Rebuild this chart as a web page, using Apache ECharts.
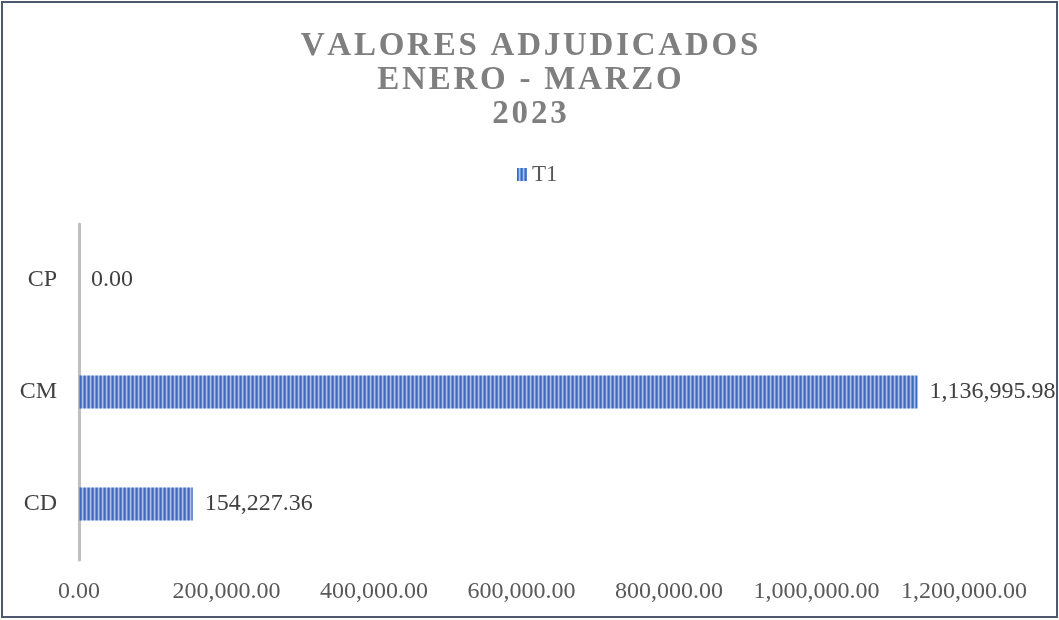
<!DOCTYPE html>
<html lang="es">

<head>
    <meta charset="UTF-8">
    <title>Valores adjudicados</title>
    <script src="https://cdn.jsdelivr.net/npm/echarts@6/dist/echarts.min.js"></script>
    <style>
        body {
            margin: 0;
            background: #fff;
        }

        #main {
            width: 1059px;
            height: 620px;
        }
    </style>
</head>

<body>
    <div id="main"></div>
    <script>
        // datos
        var categorias = ['CD', 'CM', 'CP'];
        var valoresT1 = [154227.36, 1136995.98, 0];
        var tituloLineas = ['VALORES ADJUDICADOS', 'ENERO - MARZO', '2023'];

        function fmt(v) {
            return Number(v).toLocaleString('en-US', { minimumFractionDigits: 2, maximumFractionDigits: 2 });
        }

        // separa las letras con espacio muy fino para imitar el espaciado del titulo
        function espaciar(s) {
            return s.split('').join('\u200A');
        }

        // patron de rayas verticales
        var cv = document.createElement('canvas');
        cv.width = 4;
        cv.height = 4;
        var ctx = cv.getContext('2d');
        var cols = ['#3d69bd', '#5884d3', '#a9c1ea', '#6e94d9'];
        for (var i = 0; i < 4; i++) {
            ctx.fillStyle = cols[i];
            ctx.fillRect(i, 0, 1, 4);
        }
        var patron = { image: cv, repeat: 'repeat' };

        var myChart = echarts.init(document.getElementById('main'));
        var option = {
            animation: false,
            title: {
                text: tituloLineas.map(espaciar).join('\n'),
                left: 'center',
                top: 24,
                textStyle: {
                    fontFamily: 'Liberation Serif',
                    fontWeight: 'bold',
                    fontSize: 33,
                    lineHeight: 34,
                    color: '#7f7f7f'
                }
            },
            legend: {
                top: 158,
                left: 512,
                icon: 'rect',
                itemWidth: 10,
                itemHeight: 13,
                itemGap: 6,
                textStyle: {
                    fontFamily: 'Liberation Serif',
                    fontSize: 23,
                    color: '#595959'
                },
                data: ['T1']
            },
            graphic: [{
                type: 'rect',
                shape: { x: 2, y: 2, width: 1055, height: 615 },
                style: { fill: 'none', stroke: '#4d596c', lineWidth: 2 },
                silent: true
            }],
            grid: {
                left: 79,
                right: 95,
                top: 224,
                bottom: 60,
                containLabel: false
            },
            xAxis: {
                type: 'value',
                min: 0,
                max: 1200000,
                interval: 200000,
                axisLine: { show: false },
                axisTick: { show: false },
                splitLine: { show: false },
                axisLabel: {
                    margin: 20,
                    fontFamily: 'Liberation Serif',
                    fontSize: 24,
                    color: '#595959',
                    formatter: fmt
                }
            },
            yAxis: {
                type: 'category',
                data: categorias,
                axisLine: { lineStyle: { color: '#bfbfbf', width: 3 } },
                axisTick: { show: false },
                axisLabel: {
                    margin: 22,
                    fontFamily: 'Liberation Serif',
                    fontSize: 24,
                    color: '#404040'
                }
            },
            series: [{
                name: 'T1',
                type: 'bar',
                barWidth: 33,
                data: valoresT1,
                itemStyle: { color: patron },
                label: {
                    show: true,
                    position: 'right',
                    distance: 12,
                    fontFamily: 'Liberation Serif',
                    fontSize: 24,
                    color: '#404040',
                    formatter: function (p) { return fmt(p.value); }
                }
            }]
        };
        myChart.setOption(option);
    </script>
</body>

</html>
